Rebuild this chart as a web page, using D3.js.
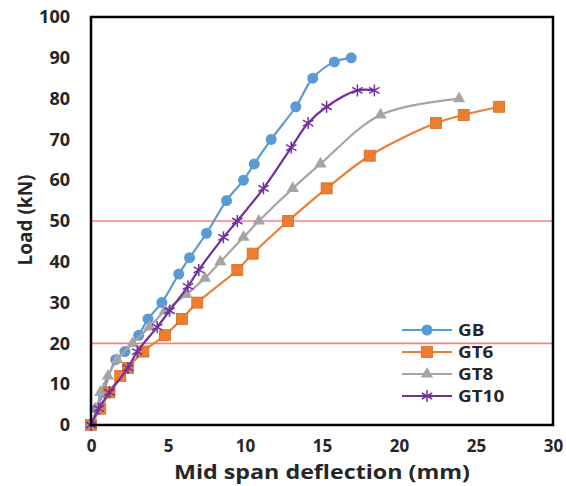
<!DOCTYPE html>
<html>
<head>
<meta charset="utf-8">
<script src="https://cdn.jsdelivr.net/npm/d3@7"></script>
<style>
  body { margin: 0; background: #fff; }
  text { font-family: "Open Sans", "DejaVu Sans", sans-serif; font-weight: bold; fill: #262626; }
</style>
</head>
<body>
<div id="chart-container"></div>
<script>
// series values: [deflection mm, load kN]
const gbData = [[0,0],[0.4,4],[0.8,8],[1.6,16],[2.2,18],[3.1,22],[3.7,26],[4.6,30],[5.7,37],[6.4,41],[7.5,47],[8.8,55],[9.9,60],[10.6,64],[11.7,70],[13.3,78],[14.4,85],[15.8,89],[16.9,90]];
const gt6Data = [[0,0],[0.6,4],[1.2,8],[1.9,12],[2.4,14],[3.4,18],[4.8,22],[5.9,26],[6.9,30],[9.5,38],[10.5,42],[12.8,50],[15.3,58],[18.1,66],[22.4,74],[24.2,76],[26.5,78]];
const gt8Data = [[0,0],[0.4,4],[0.6,8],[1.1,12],[1.7,16],[2.7,20],[3.8,24],[4.8,28],[6.2,32],[7.4,36],[8.4,40],[9.9,46],[10.9,50],[13.1,58],[14.9,64],[18.8,76],[23.9,80]];
const gt10Data = [[0,0],[0.5,4],[1.2,8],[2.4,14],[3.0,18],[4.3,24],[5.1,28],[6.3,34],[7.0,38],[8.6,46],[9.5,50],[11.2,58],[13.0,68],[14.1,74],[15.3,78],[17.3,82],[18.4,82]];
const seriesNames = ["GB", "GT6", "GT8", "GT10"];
const xTicks = [0, 5, 10, 15, 20, 25, 30];
const yTicks = [0, 10, 20, 30, 40, 50, 60, 70, 80, 90, 100];
const refLoads = [20, 50];

const colors = { GB: "#5b9bd5", GT6: "#ed7d31", GT8: "#a5a5a5", GT10: "#7030a0" };
const seriesData = { GB: gbData, GT6: gt6Data, GT8: gt8Data, GT10: gt10Data };

const W = 566, H = 486;
const margin = { top: 17, right: 13, bottom: 61, left: 91 };
const width = W - margin.left - margin.right;
const height = H - margin.top - margin.bottom;

const svg = d3.select("#chart-container")
    .append("svg")
    .attr("width", W)
    .attr("height", H);

const g = svg.append("g")
    .attr("transform", `translate(${margin.left},${margin.top})`);

const x = d3.scaleLinear().domain([0, 30]).range([0, width]);
const y = d3.scaleLinear().domain([0, 100]).range([height, 0]);

// reference lines
g.selectAll(".ref")
    .data(refLoads)
    .enter().append("line")
    .attr("x1", 0).attr("x2", width)
    .attr("y1", d => y(d)).attr("y2", d => y(d))
    .attr("stroke", "#ff8080")
    .attr("stroke-width", 1.6);

// axes (labels only)
const xAxis = g.append("g")
    .attr("transform", `translate(0,${height})`)
    .call(d3.axisBottom(x).tickValues(xTicks).tickSize(0).tickPadding(15));
xAxis.select(".domain").remove();
xAxis.selectAll("text").style("font-size", "17px").attr("fill", "#262626");

const yAxis = g.append("g")
    .call(d3.axisLeft(y).tickValues(yTicks).tickSize(0).tickPadding(21));
yAxis.select(".domain").remove();
yAxis.selectAll("text").style("font-size", "18px").attr("fill", "#262626");

// series
const line = d3.line()
    .x(d => x(d[0]))
    .y(d => y(d[1]))
    .curve(d3.curveCatmullRom.alpha(0.5));

function drawMarker(sel, name, size) {
    const c = colors[name];
    if (name === "GB") {
        sel.append("circle").attr("r", size * 0.55).attr("fill", c);
    } else if (name === "GT6") {
        const s = size * 1.1;
        sel.append("rect").attr("x", -s / 2).attr("y", -s / 2).attr("width", s).attr("height", s)
            .attr("fill", c).attr("stroke", "#d86a20").attr("stroke-width", 0.8);
    } else if (name === "GT8") {
        sel.append("path").attr("d", d3.symbol(d3.symbolTriangle, size * size * 0.65)()).attr("fill", c);
    } else {
        const r = size * 0.6;
        [0, 60, 120].forEach(a => {
            sel.append("line")
                .attr("x1", 0).attr("y1", -r).attr("x2", 0).attr("y2", r)
                .attr("transform", `rotate(${a})`)
                .attr("stroke", c).attr("stroke-width", 1.5);
        });
    }
}

seriesNames.forEach(name => {
    const data = seriesData[name];
    g.append("path")
        .datum(data)
        .attr("fill", "none")
        .attr("stroke", colors[name])
        .attr("stroke-width", 2.2)
        .attr("d", line);

    g.selectAll(".pt-" + name)
        .data(data)
        .enter().append("g")
        .attr("class", "pt-" + name)
        .attr("transform", d => `translate(${x(d[0])},${y(d[1])})`)
        .each(function () { drawMarker(d3.select(this), name, 10); });
});

// frame
g.append("rect")
    .attr("width", width).attr("height", height)
    .attr("fill", "none")
    .attr("stroke", "#000")
    .attr("stroke-width", 2.5);

// axis titles
svg.append("text")
    .attr("text-anchor", "middle")
    .attr("x", 322)
    .attr("y", 479)
    .attr("textLength", 296)
    .attr("lengthAdjust", "spacingAndGlyphs")
    .style("font-size", "20px")
    .text("Mid span deflection (mm)");

svg.append("text")
    .attr("text-anchor", "middle")
    .attr("transform", "rotate(-90)")
    .attr("x", -220)
    .attr("y", 32)
    .style("font-size", "19px")
    .text("Load (kN)");

// legend
const legend = svg.append("g").attr("transform", "translate(402,330)");
seriesNames.forEach((name, i) => {
    const row = legend.append("g").attr("transform", `translate(0,${i * 22})`);
    row.append("line")
        .attr("x1", 0).attr("x2", 50)
        .attr("stroke", colors[name]).attr("stroke-width", 2.2);
    const m = row.append("g").attr("transform", "translate(25,0)");
    drawMarker(m, name, 10);
    const t = row.append("text")
        .attr("x", 56).attr("y", 0)
        .attr("dy", "0.36em")
        .style("font-size", "16px")
        .text(name);
    // widen a little, like the reference's stretched lettering
    const len = t.node().getComputedTextLength();
    t.attr("textLength", len * 1.18).attr("lengthAdjust", "spacingAndGlyphs");
});
</script>
</body>
</html>
